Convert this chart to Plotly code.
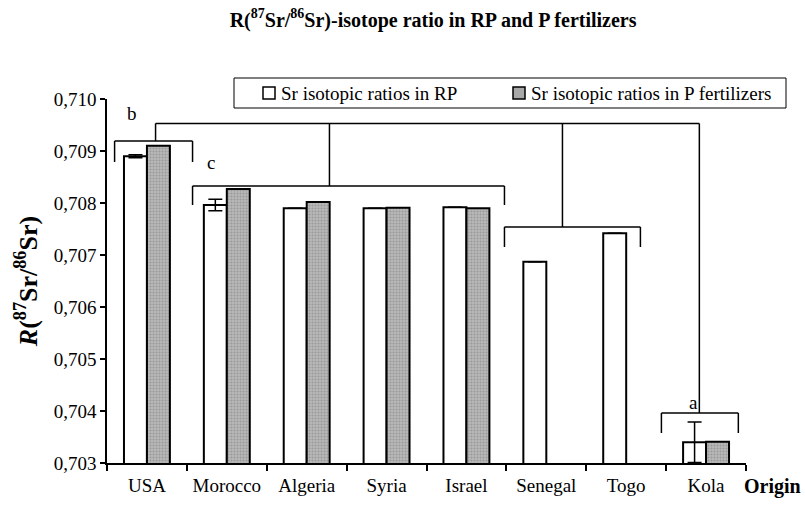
import plotly.graph_objects as go

# ---- data ----
origins = ["USA", "Morocco", "Algeria", "Syria", "Israel", "Senegal", "Togo", "Kola"]
rp_values = [0.70890, 0.70796, 0.70790, 0.70790, 0.70792, 0.70687, 0.70742, 0.70340]
rp_errors = [0.00003, 0.00011, 0.0, 0.0, 0.0, 0.0, 0.0, 0.00039]
pf_values = [0.70910, 0.70827, 0.70802, 0.70791, 0.70790, None, None, 0.70341]
y_ticks = [0.703, 0.704, 0.705, 0.706, 0.707, 0.708, 0.709, 0.710]
y_ticktext = ["0,703", "0,704", "0,705", "0,706", "0,707", "0,708", "0,709", "0,710"]
series_names = ["Sr isotopic ratios in RP", "Sr isotopic ratios in P fertilizers"]

# cluster brackets (category index units, ratio values)
# each: (x_left, x_right, y_bar, y_leg_bottom)
brackets = [
    (-0.405, 0.571, 0.709192, 0.708788),   # b
    (0.571, 4.476, 0.708327, 0.707962),    # c
    (4.476, 6.178, 0.707538, 0.707154),    # Senegal/Togo
    (6.441, 7.404, 0.703962, 0.703577),    # a
]
top_level = 0.70953
stems = [  # (x, y_from, y_to)
    (0.108, 0.709192, top_level),
    (2.285, 0.708327, top_level),
    (5.202, 0.707538, top_level),
    (6.916, 0.703962, top_level),
]
top_line = (0.108, 6.916)
group_labels = [("b", -0.19, 0.70973), ("c", 0.80, 0.70877), ("a", 6.84, 0.70416)]

SERIF = "Liberation Serif"
W, H = 805, 507
ML, MR, MT, MB = 107, 59, 99, 44
PW, PH = W - ML - MR, H - MT - MB


def px_x(p):
    return (p - ML) / PW


def px_y(p):
    return (H - MB - p) / PH


fig = go.Figure()
fig.add_trace(go.Bar(
    x=origins, y=rp_values, name=series_names[0], showlegend=False,
    marker=dict(color="white", line=dict(color="black", width=2)),
    error_y=dict(type="data", array=rp_errors, visible=True, color="black",
                 thickness=1.5, width=7),
))
fig.add_trace(go.Bar(
    x=origins, y=pf_values, name=series_names[1], showlegend=False,
    marker=dict(color="#b0b0b0", line=dict(color="black", width=2),
                pattern=dict(shape=".", fgcolor="#7a7a7a", bgcolor="#b8b8b8",
                             size=3, solidity=0.35)),
))

line_style = dict(color="black", width=1.5)
for xl, xr, yb, yl in brackets:
    fig.add_shape(type="line", xref="x", yref="y", x0=xl, x1=xr, y0=yb, y1=yb, line=line_style)
    fig.add_shape(type="line", xref="x", yref="y", x0=xl, x1=xl, y0=yb, y1=yl, line=line_style)
    fig.add_shape(type="line", xref="x", yref="y", x0=xr, x1=xr, y0=yb, y1=yl, line=line_style)
for xs, y0, y1 in stems:
    fig.add_shape(type="line", xref="x", yref="y", x0=xs, x1=xs, y0=y0, y1=y1, line=line_style)
fig.add_shape(type="line", xref="x", yref="y", x0=top_line[0], x1=top_line[1],
              y0=top_level, y1=top_level, line=line_style)

for txt, gx, gy in group_labels:
    fig.add_annotation(x=gx, y=gy, xref="x", yref="y", text=txt, showarrow=False,
                       font=dict(family=SERIF, size=19, color="black"))

# legend box (drawn like the original, boxed, single row)
fig.add_shape(type="rect", xref="paper", yref="paper", x0=px_x(234), x1=px_x(786),
              y0=px_y(108), y1=px_y(78), line=dict(color="black", width=1), fillcolor="white")
legend_items = [(263, series_names[0], "white"), (513, series_names[1], "#a8a8a8")]
for sx, name, fill in legend_items:
    fig.add_shape(type="rect", xref="paper", yref="paper", x0=px_x(sx), x1=px_x(sx + 12),
                  y0=px_y(99), y1=px_y(87), line=dict(color="black", width=1.5), fillcolor=fill)
    fig.add_annotation(x=px_x(sx + 16), y=px_y(93), xref="paper", yref="paper", text=name,
                       showarrow=False, xanchor="left", yanchor="middle",
                       font=dict(family=SERIF, size=19, color="black"))

fig.add_annotation(x=px_x(742), y=px_y(486), xref="paper", yref="paper", text="<b>Origin</b>",
                   showarrow=False, xanchor="left", yanchor="middle",
                   font=dict(family=SERIF, size=20, color="black"))

fig.update_layout(
    width=W, height=H,
    margin=dict(l=ML, r=MR, t=MT, b=MB),
    paper_bgcolor="white", plot_bgcolor="white",
    barmode="group", bargap=0.425, bargroupgap=0,
    font=dict(family=SERIF, size=18, color="black"),
    showlegend=False,
    title=dict(text="<b>R(<sup>87</sup>Sr/<sup>86</sup>Sr)-isotope ratio in RP and P fertilizers</b>",
               x=0.538, xanchor="center", y=0.961, yanchor="middle",
               font=dict(family=SERIF, size=20, color="black")),
    xaxis=dict(type="category", range=[-0.5, 7.5], showline=True, linecolor="black",
               linewidth=1.5, ticks="outside", tickson="boundaries", ticklen=6,
               tickcolor="black", tickwidth=1.5, showgrid=False, zeroline=False,
               ticklabelstandoff=4,
               tickfont=dict(family=SERIF, size=19, color="black")),
    yaxis=dict(range=[0.703, 0.710], tickvals=y_ticks, ticktext=y_ticktext,
               showline=True, linecolor="black", linewidth=1.5, ticks="outside",
               ticklen=5, tickcolor="black", tickwidth=1.5, showgrid=False,
               zeroline=False, tickfont=dict(family=SERIF, size=19, color="black"),
               title=dict(text="<b><i>R</i>(<sup>87</sup>Sr/<sup>86</sup>Sr)</b>",
                          font=dict(family=SERIF, size=26, color="black"), standoff=9)),
)

fig.write_html("out.html", config={"displayModeBar": False},
               post_script="document.body.style.margin='0px';")
